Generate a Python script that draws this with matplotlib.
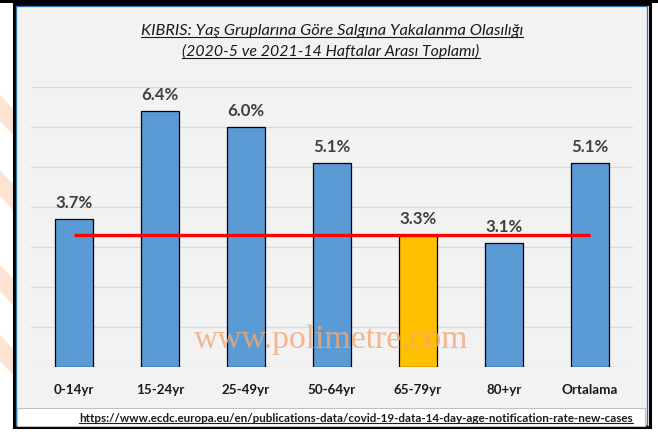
import matplotlib
matplotlib.use("Agg")
import matplotlib.pyplot as plt
from matplotlib.patches import Rectangle, Polygon
from matplotlib.lines import Line2D

W, H = 658, 432

groups = ["0-14yr", "15-24yr", "25-49yr", "50-64yr", "65-79yr", "80+yr", "Ortalama"]
rates = [3.7, 6.4, 6.0, 5.1, 3.3, 3.1, 5.1]
highlight = "65-79yr"
title_lines = ["KIBRIS: Yaş Gruplarına Göre Salgına Yakalanma Olasılığı",
               "(2020-5 ve 2021-14 Haftalar Arası Toplamı)"]
source = "https://www.ecdc.europa.eu/en/publications-data/covid-19-data-14-day-age-notification-rate-new-cases"
watermark = "www.polimetre.com"

BLUE = "#5b9bd5"
GOLD = "#ffc000"


def fx(px):
    return px / W


def fy(py):
    return 1 - py / H


def fit(txt, width_px):
    r = fig.canvas.get_renderer()
    w = txt.get_window_extent(r).width
    txt.set_fontsize(txt.get_fontsize() * width_px / w)
    return txt.get_fontsize()


def underline(txt, gap=2):
    r = fig.canvas.get_renderer()
    bb = txt.get_window_extent(r)
    y = bb.y0 + 0.18 * bb.height - gap
    fig.add_artist(Line2D([fx(bb.x0), fx(bb.x1)], [y / H, y / H],
                          transform=fig.transFigure, color="#1a1a1a", lw=0.8))


fig = plt.figure(figsize=(W / 100, H / 100), dpi=100)
fig.patch.set_facecolor("white")

# orange watermark bits peeking out on the left
for y0 in [95, 170, 265, 335]:
    fig.add_artist(Polygon([(fx(0), fy(y0)), (fx(13), fy(y0 + 14)),
                            (fx(13), fy(y0 + 40)), (fx(0), fy(y0 + 26))],
                           closed=True, transform=fig.transFigure,
                           facecolor="#fde3d2", edgecolor="none", zorder=0))

# top black band and outer frame
fig.add_artist(Rectangle((0, fy(3)), 1, 3 / H, transform=fig.transFigure,
                         facecolor="black", edgecolor="none", zorder=1))
fig.add_artist(Rectangle((fx(14), fy(427)), (650 - 14) / W, (427 - 4) / H,
                         transform=fig.transFigure, facecolor="#f2f2f2",
                         edgecolor="black", lw=2.2, zorder=1))
fig.add_artist(Rectangle((fx(16), fy(425)), (647 - 16) / W, (425 - 6) / H,
                         transform=fig.transFigure, facecolor="none",
                         edgecolor="#2e75b6", lw=0.9, zorder=1))
fig.add_artist(Rectangle((fx(17), fy(426)), (645 - 17) / W, (426 - 408) / H,
                         transform=fig.transFigure, facecolor="white",
                         edgecolor="#bfbfbf", lw=0.8, zorder=1))

ax = fig.add_axes([fx(31), fy(367), (633 - 31) / W, (367 - 87) / H])
ax.set_facecolor("none")
ax.set_zorder(2)

colors = [GOLD if g == highlight else BLUE for g in groups]
x = list(range(len(groups)))
ax.bar(x, rates, width=0.45, color=colors, edgecolor="black", lw=0.9, zorder=3)
ax.plot([x[0], x[-1]], [rates[groups.index(highlight)]] * 2, color="#ff0000",
        lw=2.4, solid_capstyle="butt", zorder=4)

vlabels = []
for xi, v in zip(x, rates):
    vlabels.append(ax.annotate(f"{v:.1f}%", (xi, v), xytext=(0, 8),
                               textcoords="offset points", ha="center",
                               va="baseline", fontsize=11.5, fontweight="bold",
                               color="#404040", family="Lato"))

ax.set_xlim(-0.5, 6.5)
ax.set_ylim(0, 7)
ax.set_yticks(range(0, 8))
ax.yaxis.grid(True, color="#d9d9d9", lw=1)
ax.set_axisbelow(True)
ax.tick_params(axis="y", left=False, labelleft=False)
ax.set_xticks(x)
ax.set_xticklabels(groups, fontsize=9.6, fontweight="bold", family="Lato",
                   color="#1a1a1a")
ax.tick_params(axis="x", length=0, pad=12)
for s in ax.spines.values():
    s.set_visible(False)

fig.canvas.draw()

# match value label size to the reference width
vsize = fit(vlabels[0], 37)
for t in vlabels:
    t.set_fontsize(vsize)

t1 = fig.text(fx(332), fy(35), title_lines[0], ha="center", va="baseline",
              fontsize=11, style="italic", family="Lato", color="#1a1a1a")
t2 = fig.text(fx(331), fy(56), title_lines[1], ha="center", va="baseline",
              fontsize=11, style="italic", family="Lato", color="#1a1a1a")
fit(t1, 381)
fit(t2, 296)
underline(t1)
underline(t2)

src = fig.text(fx(356), fy(422), source, ha="center", va="baseline",
               fontsize=7, fontweight="bold", family="Lato", color="#1a1a1a")
fit(src, 557)
underline(src, gap=1)

wm = fig.text(fx(331), fy(348), watermark, ha="center", va="baseline",
              fontsize=22, family="Liberation Serif", color="#f4a774",
              alpha=0.8, zorder=10)
fit(wm, 273)

fig.savefig("out.png", dpi=100, facecolor="white")
